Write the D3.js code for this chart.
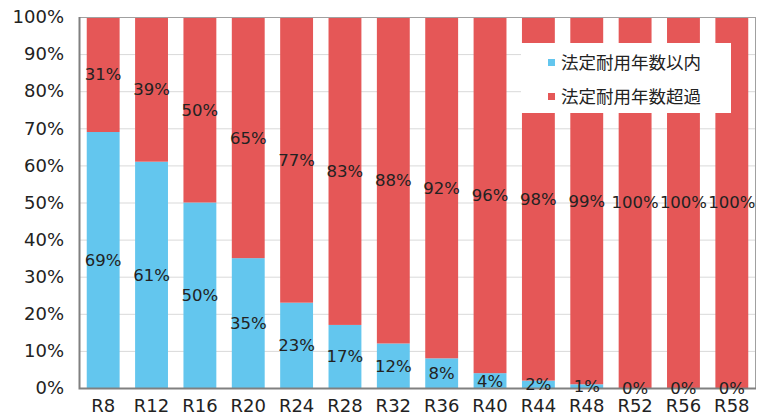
<!DOCTYPE html>
<html>
<head>
<meta charset="utf-8">
<script src="https://cdn.jsdelivr.net/npm/d3@7"></script>
<style>
  body { margin: 0; background: #fff; }
  text { font-family: "DejaVu Sans", "Noto Sans CJK JP", sans-serif; fill: #222; }
  .legend text { font-family: "Noto Sans CJK JP", sans-serif; }
</style>
</head>
<body>
<div id="chart"></div>
<script>
// data
var categories = ["R8", "R12", "R16", "R20", "R24", "R28", "R32", "R36", "R40", "R44", "R48", "R52", "R56", "R58"];
var within = [69, 61, 50, 35, 23, 17, 12, 8, 4, 2, 1, 0, 0, 0];
var over = [31, 39, 50, 65, 77, 83, 88, 92, 96, 98, 99, 100, 100, 100];
var seriesNames = ["法定耐用年数以内", "法定耐用年数超過"];
var yTicks = [0, 10, 20, 30, 40, 50, 60, 70, 80, 90, 100];

var colors = ["rgb(99, 198, 238)", "rgb(229, 87, 87)"];

var width = 757, height = 420;
var margin = {left: 79, right: 1, top: 17, bottom: 32};

var svg = d3.select("#chart").append("svg")
    .attr("width", width)
    .attr("height", height);

var x = d3.scaleBand()
    .domain(categories)
    .range([margin.left, width - margin.right])
    .paddingInner(0.32)
    .paddingOuter(0.16);

var y = d3.scaleLinear()
    .domain([0, 100])
    .range([height - margin.bottom, margin.top]);

// gridlines
svg.selectAll()
    .data(yTicks).enter()
    .append("line")
    .attr("x1", margin.left)
    .attr("x2", width - margin.right)
    .attr("y1", d => y(d) + 0.5)
    .attr("y2", d => y(d) + 0.5)
    .style("stroke", "#d9d9d9")
    .style("stroke-width", 1);

// stacked rows
var rows = categories.map(function(c, i){
    return {cat: c, within: within[i], over: over[i]};
});
var stack = d3.stack().keys(["within", "over"])(rows);

svg.selectAll()
    .data(stack).enter()
    .append("g")
    .style("fill", (d, i) => colors[i])
    .selectAll("rect")
    .data(d => d).enter()
    .append("rect")
    .attr("x", d => x(d.data.cat))
    .attr("width", x.bandwidth())
    .attr("y", d => y(d[1]))
    .attr("height", d => y(d[0]) - y(d[1]));

// frame
svg.append("rect")
    .attr("x", margin.left + 0.5)
    .attr("y", margin.top + 0.5)
    .attr("width", width - margin.right - margin.left - 1)
    .attr("height", height - margin.bottom - margin.top)
    .style("fill", "none")
    .style("stroke", "#a0a0a0")
    .style("stroke-width", 1);
svg.append("path")
    .attr("d", "M" + (margin.left + 0.5) + "," + margin.top + "V" + (y(0) + 0.5) + "H" + (width - margin.right))
    .style("fill", "none")
    .style("stroke", "#808080")
    .style("stroke-width", 2);

// data labels
stack.forEach(function(s){
    svg.selectAll()
        .data(s).enter()
        .append("text")
        .attr("x", d => x(d.data.cat) + x.bandwidth() / 2)
        .attr("y", d => y((d[0] + d[1]) / 2))
        .attr("dy", "0.36em")
        .attr("text-anchor", "middle")
        .style("font-size", "16.5px")
        .text(d => (d[1] - d[0]) + "%");
});

// y axis
var yAxis = d3.axisLeft(y).tickValues(yTicks).tickSize(0).tickPadding(15).tickFormat(d => d + "%");
var ya = svg.append("g").attr("transform", "translate(" + margin.left + ",0)").call(yAxis);
ya.select(".domain").remove();
ya.selectAll("text").style("font-size", "18px").style("font-family", null);

// x axis
var xAxis = d3.axisBottom(x).tickSize(0).tickPadding(11);
var xa = svg.append("g").attr("transform", "translate(0," + y(0) + ")").call(xAxis);
xa.select(".domain").remove();
xa.selectAll("text").style("font-size", "18px").style("font-family", null);

// legend
var legend = svg.append("g").attr("class", "legend").attr("transform", "translate(521,43)");
legend.append("rect")
    .attr("width", 210)
    .attr("height", 70)
    .style("fill", "#fff");
var items = legend.selectAll()
    .data(seriesNames).enter()
    .append("g")
    .attr("transform", (d, i) => "translate(27," + (16 + i * 34) + ")");
items.append("rect")
    .attr("width", 7)
    .attr("height", 7)
    .style("fill", (d, i) => colors[i]);
items.append("text")
    .attr("x", 13)
    .attr("y", 4)
    .attr("dy", "0.36em")
    .style("font-size", "17.5px")
    .text(d => d);
</script>
</body>
</html>
